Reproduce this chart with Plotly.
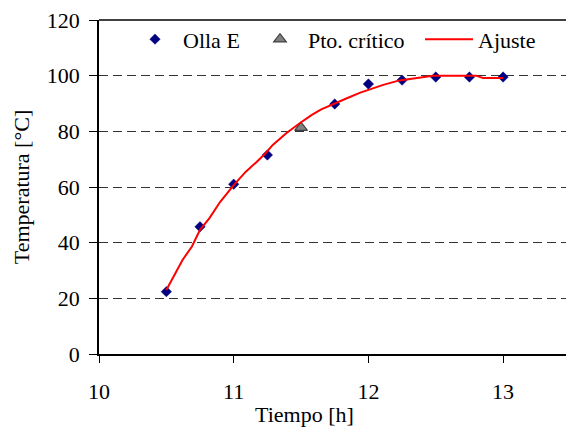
import plotly.graph_objects as go

# Measured data (Olla E)
tiempo_h = [10.5, 10.75, 11.0, 11.25, 11.75, 12.0, 12.25, 12.5, 12.75, 13.0]
temp_c = [22.4, 45.7, 61.0, 71.5, 89.8, 97.0, 98.4, 99.5, 99.5, 99.5]

# Critical point
critico_h = [11.5]
critico_c = [81.3]

# Fitted curve
ajuste_h = [10.5, 10.56, 10.62, 10.69, 10.75, 10.82, 10.90, 11.0, 11.09, 11.17,
            11.24, 11.29, 11.39, 11.49, 11.58, 11.65, 11.75, 11.84, 11.94, 12.01,
            12.11, 12.23, 12.33, 12.48, 12.62, 12.80, 12.85, 13.0]
ajuste_c = [23.0, 28.4, 33.8, 38.6, 44.6, 48.8, 54.7, 60.7, 65.5, 69.0,
            72.3, 75.1, 79.3, 82.9, 85.9, 87.9, 90.1, 91.9, 93.9, 95.1,
            96.7, 98.3, 98.9, 100.0, 100.0, 100.0, 99.2, 99.2]

y_ticks = [0, 20, 40, 60, 80, 100, 120]
x_ticks = [10, 11, 12, 13]

FONT = "Liberation Serif, Times New Roman, serif"

fig = go.Figure()
fig.add_trace(go.Scatter(
    x=tiempo_h, y=temp_c, mode="markers", name="Olla E", legend="legend",
    marker=dict(symbol="diamond", size=8, color="#000080",
                line=dict(width=0.5, color="#000080")),
))
fig.add_trace(go.Scatter(
    x=critico_h, y=critico_c, mode="markers", name="Pto. crítico", legend="legend2",
    marker=dict(symbol="triangle-up", size=11, color="#808080",
                line=dict(width=1.2, color="#404040")),
))
fig.add_trace(go.Scatter(
    x=ajuste_h, y=ajuste_c, mode="lines", name="Ajuste", legend="legend3",
    line=dict(color="#FF0000", width=2),
))

def leg(xpx, iw):
    return dict(
        orientation="h", x=(xpx - 99) / 467, y=1.005, xanchor="left", yanchor="top",
        bgcolor="rgba(255,255,255,0)", font=dict(family=FONT, size=22),
        itemwidth=iw,
    )

fig.update_layout(
    width=566, height=434,
    margin=dict(l=99, r=0, t=20, b=80),
    paper_bgcolor="white", plot_bgcolor="white",
    font=dict(family=FONT, size=22, color="black"),
    showlegend=True,
    legend=leg(127, 46),
    legend2=leg(252, 46),
    legend3=leg(420, 48),
    xaxis=dict(
        range=[10, 13.467], tickvals=x_ticks, ticks="outside", ticklen=7,
        tickwidth=1, tickcolor="black", showline=True, linecolor="black",
        linewidth=2, showgrid=False, zeroline=False, ticklabelstandoff=10,
        tickfont=dict(family=FONT, size=22),
    ),
    yaxis=dict(
        range=[0, 120], tickvals=y_ticks, ticks="outside", ticklen=8,
        tickwidth=1, tickcolor="black", showline=True, linecolor="black",
        linewidth=1.5, showgrid=True, gridcolor="#333333", gridwidth=1,
        griddash="9px,5px", zeroline=False, ticklabelstandoff=5,
        tickfont=dict(family=FONT, size=22),
        title=dict(text="Temperatura [°C]", font=dict(family=FONT, size=22),
                   standoff=11),
    ),
    shapes=[dict(type="line", xref="paper", yref="paper", x0=0, x1=1, y0=1, y1=1,
                 line=dict(color="black", width=1.5))],
    annotations=[dict(text="Tiempo [h]", xref="paper", yref="paper",
                      x=(304 - 99) / 467, y=-(414 - 354) / 334,
                      xanchor="center", yanchor="middle", showarrow=False,
                      font=dict(family=FONT, size=22))],
)

fig.write_html("out.html")
